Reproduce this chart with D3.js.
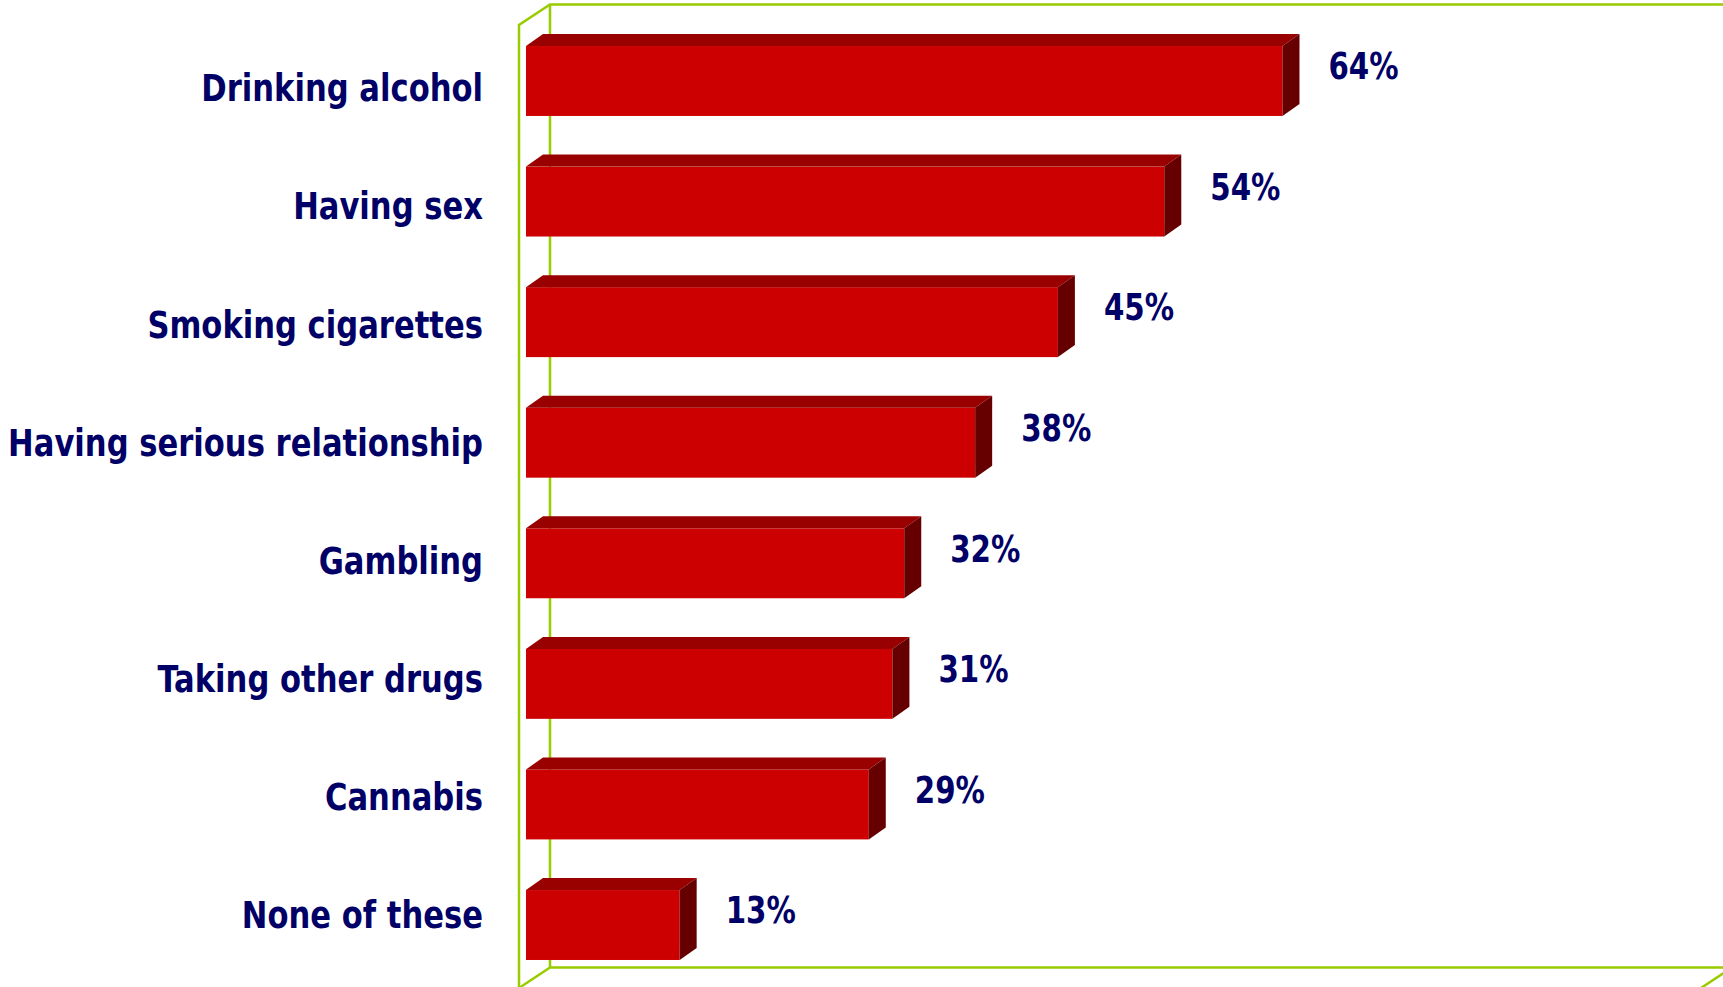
<!DOCTYPE html>
<html>
<head>
<meta charset="utf-8">
<script src="https://cdn.jsdelivr.net/npm/d3@7"></script>
<style>
  body { margin: 0; background: #fff; }
  .cat { font-family: "DejaVu Sans Condensed", "DejaVu Sans", sans-serif; font-weight: bold; font-size: 37px; fill: #000066; }
  .val { font-family: "DejaVu Sans Condensed", "DejaVu Sans", sans-serif; font-weight: bold; font-size: 37px; fill: #000066; }
  .frame { fill: none; stroke: #99cc00; stroke-width: 2.5; }
</style>
</head>
<body>
<svg id="myGraph"></svg>
<script>
var categories = ["Drinking alcohol", "Having sex", "Smoking cigarettes", "Having serious relationship",
                  "Gambling", "Taking other drugs", "Cannabis", "None of these"];
var values = [64, 54, 45, 38, 32, 31, 29, 13];
var valueLabels = ["64%", "54%", "45%", "38%", "32%", "31%", "29%", "13%"];

var svgWidth = 1723;
var svgHeight = 987;

// 3d offsets
var depthX = 31, depthY = -20.5;   // frame
var barDX = 17, barDY = -12;       // bars

// the original face is narrower than DejaVu, squeeze it a bit
var catSqueeze = 0.92;
var valSqueeze = 0.88;

var svg = d3.select("#myGraph")
    .attr("width", svgWidth)
    .attr("height", svgHeight);

var xScale = d3.scaleLinear()
    .domain([0, 100])
    .range([526, 1708]);

var yScale = d3.scaleBand()
    .domain(categories)
    .range([20.7, 985.3])
    .paddingInner(0.42)
    .paddingOuter(0.21);

// labels sit on a slightly tighter spacing than the bars
var labelScale = d3.scalePoint()
    .domain(categories)
    .range([88, 915]);

// frame (walls)
var fl = xScale(0) - 7, ft = 25, fb = 988;
var fr = xScale(100) - 7;
var frame = svg.append("g");
frame.append("path").attr("class", "frame")
    .attr("d", "M" + fl + "," + (fb + 20) + "V" + ft + "L" + (fl + depthX) + "," + (ft + depthY)
        + "H" + (svgWidth + 20));
frame.append("path").attr("class", "frame")
    .attr("d", "M" + (fl + depthX) + "," + (ft + depthY) + "V" + (fb + depthY)
        + "H" + (fr + depthX) + "V" + (ft + depthY));
frame.append("path").attr("class", "frame")
    .attr("d", "M" + (fl + depthX) + "," + (fb + depthY) + "L" + fl + "," + fb);
frame.append("path").attr("class", "frame")
    .attr("d", "M" + (fr + depthX) + "," + (fb + depthY) + "L" + fr + "," + fb);

// bars
var bars = svg.selectAll("g.bar")
    .data(values)
    .enter()
    .append("g")
    .attr("class", "bar");

var h = yScale.bandwidth();

bars.append("rect")
    .attr("x", xScale(0))
    .attr("y", (d, i) => yScale(categories[i]))
    .attr("width", d => xScale(d) - xScale(0))
    .attr("height", h)
    .attr("fill", "#cc0000");

bars.append("path")
    .attr("fill", "#990000")
    .attr("d", function(d, i) {
        var x0 = xScale(0), x1 = xScale(d), y = yScale(categories[i]);
        return "M" + x0 + "," + y + "L" + x1 + "," + y + "L" + (x1 + barDX) + "," + (y + barDY)
            + "L" + (x0 + barDX) + "," + (y + barDY) + "Z";
    });

bars.append("path")
    .attr("fill", "#660000")
    .attr("d", function(d, i) {
        var x1 = xScale(d), y = yScale(categories[i]);
        return "M" + x1 + "," + y + "L" + (x1 + barDX) + "," + (y + barDY) + "L" + (x1 + barDX) + ","
            + (y + h + barDY) + "L" + x1 + "," + (y + h) + "Z";
    });

// value labels
svg.selectAll("text.val")
    .data(values)
    .enter()
    .append("text")
    .attr("class", "val")
    .attr("transform", (d, i) => "translate(" + (xScale(d) + 46) + ","
        + (yScale(categories[i]) + h / 2 - 15) + ") scale(" + valSqueeze + ",1)")
    .attr("dy", "0.36em")
    .text((d, i) => valueLabels[i]);

// category labels
svg.selectAll("text.cat")
    .data(categories)
    .enter()
    .append("text")
    .attr("class", "cat")
    .attr("transform", d => "translate(483," + labelScale(d) + ") scale(" + catSqueeze + ",1)")
    .attr("dy", "0.36em")
    .attr("text-anchor", "end")
    .text(d => d);
</script>
</body>
</html>
